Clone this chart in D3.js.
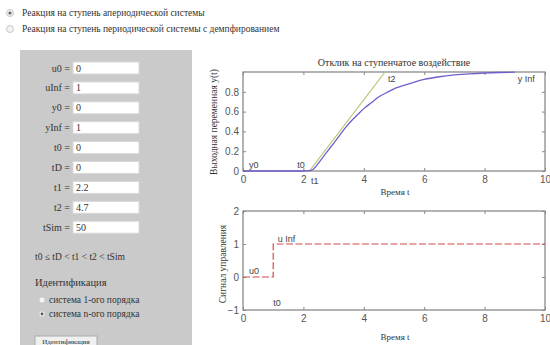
<!DOCTYPE html>
<html>
<head>
<meta charset="utf-8">
<script src="https://cdn.jsdelivr.net/npm/d3@7"></script>
<style>
  html, body { margin: 0; padding: 0; background: #fff; }
  svg { display: block; }
</style>
</head>
<body>
<div id="chart"></div>
<script>
// --- data ---
const modeLabels = [
  'Реакция на ступень апериодической системы',
  'Реакция на ступень периодической системы с демпфированием'
]
const paramNames = ['u0', 'uInf', 'y0', 'yInf', 't0', 'tD', 't1', 't2', 'tSim']
const paramValues = ['0', '1', '0', '1', '0', '0', '2.2', '4.7', '50']
const orderLabels = ['система 1-ого порядка', 'система n-ого порядка']

const respT = [0, 2.0, 2.2, 2.3, 2.4, 2.5, 2.6, 2.8, 3.0, 3.2, 3.4, 3.6, 3.8, 4.0, 4.25, 4.5, 4.75, 5.0, 5.5, 6.0, 6.5, 7.0, 7.5, 8.0, 8.5, 9.0]
const respY = [0, 0, 0.003, 0.012, 0.04, 0.08, 0.12, 0.2, 0.28, 0.36, 0.44, 0.51, 0.57, 0.63, 0.69, 0.75, 0.79, 0.83, 0.88, 0.925, 0.952, 0.97, 0.982, 0.99, 0.995, 0.998]
const tangentT = [2.2, 4.7]
const tangentY = [0, 1]
const ctrlT = [0, 1, 1, 10]
const ctrlU = [0, 0, 1, 1]

const xTicks = [0, 2, 4, 6, 8, 10]
const yTicksTop = [0, 0.2, 0.4, 0.6, 0.8]
const yTicksBottom = [-1, 0, 1, 2]

const topNotes = [
  { t: 0.2, v: 0.03, text: 'y0' },
  { t: 1.8, v: 0.03, text: 't0' },
  { t: 2.25, v: -0.13, text: 't1' },
  { t: 4.8, v: 0.9, text: 't2' },
  { t: 9.1, v: 0.9, text: 'y Inf' }
]
const bottomNotes = [
  { t: 0.2, v: 0.08, text: 'u0' },
  { t: 1.15, v: 1.06, text: 'u Inf' },
  { t: 1.0, v: -0.88, text: 't0' }
]

const width = 550
const height = 345
const serif = '"Liberation Serif", "DejaVu Serif", serif'
const sans = '"Liberation Sans", Arial, sans-serif'

const svg = d3.select('#chart').append('svg')
  .attr('width', width)
  .attr('height', height)

// --- top radio buttons ---
const modes = svg.append('g')
modeLabels.forEach((label, i) => {
  const y = 13 + i * 16
  modes.append('circle')
    .attr('cx', 10).attr('cy', y).attr('r', 3.5)
    .attr('fill', '#f2f2f2').attr('stroke', '#c8c8c8')
  if (i === 0) {
    modes.append('circle').attr('cx', 10).attr('cy', y).attr('r', 1.6).attr('fill', '#666')
  }
  modes.append('text')
    .attr('x', 22).attr('y', y + 3)
    .style('font-family', serif).style('font-size', '9.5px').attr('fill', '#333')
    .text(label)
})

// --- left parameter panel ---
const panel = svg.append('g')
panel.append('rect')
  .attr('x', 20).attr('y', 50).attr('width', 172).attr('height', 300)
  .attr('fill', '#cacaca')

paramNames.forEach((name, i) => {
  const y = 68 + i * 19.9
  panel.append('text')
    .attr('x', 70).attr('y', y + 3.5)
    .attr('text-anchor', 'end')
    .style('font-family', serif).style('font-size', '10px').attr('fill', '#333')
    .text(`${name} =`)
  panel.append('rect')
    .attr('x', 73).attr('y', y - 6).attr('width', 66).attr('height', 12)
    .attr('fill', '#fff').attr('stroke', '#d8d8d8')
  panel.append('text')
    .attr('x', 76).attr('y', y + 3.5)
    .style('font-family', serif).style('font-size', '10px').attr('fill', '#333')
    .text(paramValues[i])
})

panel.append('text')
  .attr('x', 35).attr('y', 260)
  .style('font-family', serif).style('font-size', '9.5px').attr('fill', '#333')
  .text('t0 ≤ tD < t1 < t2 < tSim')

panel.append('text')
  .attr('x', 35).attr('y', 286)
  .style('font-family', serif).style('font-size', '10.5px').attr('fill', '#333')
  .text('Идентификация')

orderLabels.forEach((label, i) => {
  const y = 300 + i * 14
  panel.append('circle')
    .attr('cx', 42).attr('cy', y).attr('r', 2.5)
    .attr('fill', '#f4f4f4')
  if (i === 1) {
    panel.append('circle').attr('cx', 42).attr('cy', y).attr('r', 1.4).attr('fill', '#555')
  }
  panel.append('text')
    .attr('x', 49).attr('y', y + 3)
    .style('font-family', serif).style('font-size', '9.5px').attr('fill', '#333')
    .text(label)
})

panel.append('rect')
  .attr('x', 35).attr('y', 336).attr('width', 62).attr('height', 10)
  .attr('fill', '#f0f0f0').attr('stroke', '#aaa')
panel.append('text')
  .attr('x', 66).attr('y', 343.5).attr('text-anchor', 'middle')
  .style('font-family', serif).style('font-size', '7px').attr('fill', '#333')
  .text('Идентификация')

// --- plots ---
const x = d3.scaleLinear().domain([0, 10]).range([243, 545])
const yTop = d3.scaleLinear().domain([0, 1]).range([171, 72])
const yBot = d3.scaleLinear().domain([-1, 2]).range([310, 211])

const drawAxes = (yScale, yTicks, yFmt) => {
  const g = svg.append('g')
  const [y0, y1] = yScale.range()
  const styleAxis = (a) => {
    a.selectAll('.domain').remove()
    a.selectAll('.tick line').attr('stroke', '#888')
    a.selectAll('.tick text')
      .style('font-family', sans).style('font-size', '10px').attr('fill', '#555')
  }
  g.append('g').attr('transform', `translate(0,${y0})`)
    .call(d3.axisBottom(x).tickValues(xTicks).tickSizeInner(-3).tickPadding(5).tickFormat(d3.format('d')))
    .call(styleAxis)
  g.append('g').attr('transform', `translate(0,${y1})`)
    .call(d3.axisTop(x).tickValues(xTicks).tickSizeInner(-3).tickFormat(''))
    .call(styleAxis)
  g.append('g').attr('transform', `translate(${x.range()[0]},0)`)
    .call(d3.axisLeft(yScale).tickValues(yTicks).tickSizeInner(-3).tickPadding(4).tickFormat(yFmt))
    .call(styleAxis)
  g.append('g').attr('transform', `translate(${x.range()[1]},0)`)
    .call(d3.axisRight(yScale).tickValues(yTicks).tickSizeInner(-3).tickFormat(''))
    .call(styleAxis)
  g.append('rect')
    .attr('x', x.range()[0]).attr('y', y1)
    .attr('width', x.range()[1] - x.range()[0]).attr('height', y0 - y1)
    .attr('fill', 'none').attr('stroke', '#8a8a8a').attr('stroke-width', 1.3)
  return g
}

const addNotes = (notes, yScale) => {
  svg.append('g').selectAll('text')
    .data(notes)
    .join('text')
    .attr('x', (d) => x(d.t))
    .attr('y', (d) => yScale(d.v))
    .style('font-family', sans).style('font-size', '9px').attr('fill', '#444')
    .text((d) => d.text)
}

// top: step response
drawAxes(yTop, yTicksTop, (d) => (d === 0 ? '0' : d3.format('.1f')(d)))

const respLine = d3.line().x((d) => x(d[0])).y((d) => yTop(d[1])).curve(d3.curveMonotoneX)
svg.append('path')
  .datum(tangentT.map((t, i) => [t, tangentY[i]]))
  .attr('fill', 'none').attr('stroke', '#b4c46e').attr('stroke-width', 1.2)
  .attr('d', respLine)
svg.append('path')
  .datum(respT.map((t, i) => [t, respY[i]]))
  .attr('fill', 'none').attr('stroke', '#6f5fcb').attr('stroke-width', 1.3)
  .attr('d', respLine)

addNotes(topNotes, yTop)

svg.append('text')
  .attr('x', 394).attr('y', 66).attr('text-anchor', 'middle')
  .style('font-family', serif).style('font-size', '10px').attr('fill', '#333')
  .text('Отклик на ступенчатое воздействие')
svg.append('text')
  .attr('transform', 'translate(217,122) rotate(-90)').attr('text-anchor', 'middle')
  .style('font-family', serif).style('font-size', '9.5px').attr('fill', '#333')
  .text('Выходная переменная y(t)')
svg.append('text')
  .attr('x', 395).attr('y', 195).attr('text-anchor', 'middle')
  .style('font-family', serif).style('font-size', '9px').attr('fill', '#333')
  .text('Время t')

// bottom: control signal
drawAxes(yBot, yTicksBottom, d3.format('d'))

const ctrlLine = d3.line().x((d) => x(d[0])).y((d) => yBot(d[1]))
svg.append('path')
  .datum(ctrlT.map((t, i) => [t, ctrlU[i]]))
  .attr('fill', 'none').attr('stroke', '#d44c4c').attr('stroke-width', 1.2)
  .attr('stroke-dasharray', '7,2.5')
  .attr('d', ctrlLine)

addNotes(bottomNotes, yBot)

svg.append('text')
  .attr('transform', 'translate(226,264) rotate(-90)').attr('text-anchor', 'middle')
  .style('font-family', serif).style('font-size', '9.5px').attr('fill', '#333')
  .text('Сигнал управления')
svg.append('text')
  .attr('x', 395).attr('y', 340).attr('text-anchor', 'middle')
  .style('font-family', serif).style('font-size', '9px').attr('fill', '#333')
  .text('Время t')
</script>
</body>
</html>
